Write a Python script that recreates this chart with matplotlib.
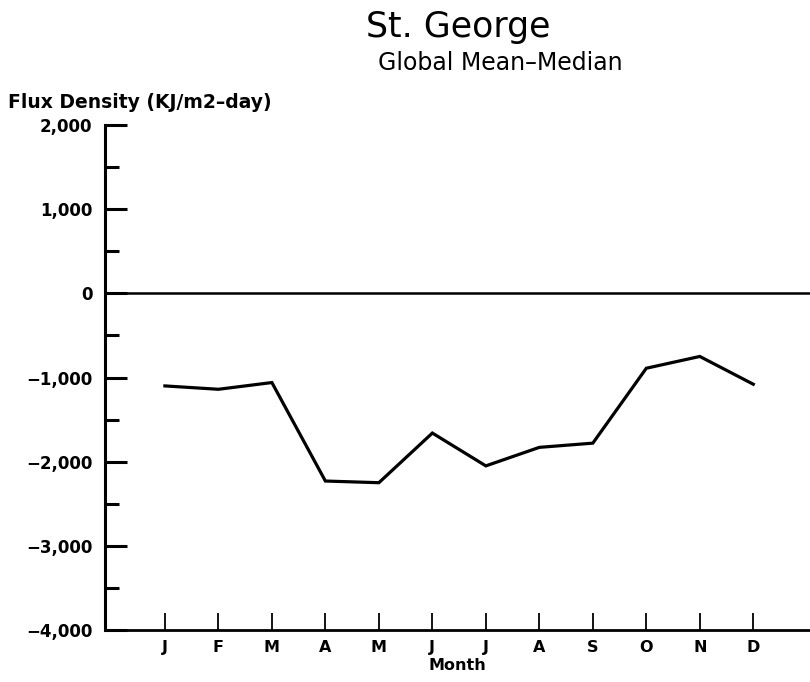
import numpy as np
import matplotlib.pyplot as plt
from matplotlib.ticker import MultipleLocator, FuncFormatter

months = ["J", "F", "M", "A", "M", "J", "J", "A", "S", "O", "N", "D"]
flux = [-1100, -1140, -1060, -2230, -2250, -1660, -2050, -1830, -1780, -890, -750, -1080]
x = np.arange(1, len(months) + 1)

plt.rcParams['font.family'] = ['DejaVu Sans']

fig = plt.figure(figsize=(8.1, 6.82), dpi=100)
ax = fig.add_axes([105 / 810, 52 / 682, 1 - 105 / 810, 505 / 682])

ax.plot(x, flux, color='black', linewidth=2.3, solid_joinstyle='miter')
ax.axhline(0, color='black', linewidth=1.8)

ax.set_xlim(-0.12, 13.06)
ax.set_ylim(-4000, 2000)

for s in ['top', 'right']:
    ax.spines[s].set_visible(False)
ax.spines['left'].set_linewidth(2.2)
ax.spines['bottom'].set_linewidth(2.0)

ax.set_xticks(x)
ax.set_xticklabels(months, fontweight='bold', fontsize=11.5)
ax.tick_params(axis='x', direction='in', length=12, width=1.3, pad=7)

ax.yaxis.set_major_locator(MultipleLocator(1000))
ax.yaxis.set_minor_locator(MultipleLocator(500))
ax.yaxis.set_major_formatter(FuncFormatter(lambda v, p: f"{int(v):,}".replace("-", "\u2212")))
ax.tick_params(axis='y', which='major', direction='in', length=16, width=2.2, pad=9,
               labelsize=12)
ax.tick_params(axis='y', which='minor', direction='in', length=10, width=2.2)
for lab in ax.get_yticklabels():
    lab.set_fontweight('bold')

ax.set_xlabel("Month", fontweight='bold', fontsize=11.5, labelpad=2)

fig.text(458 / 810, 1 - 37 / 682, "St. George", ha='center', va='baseline', fontsize=25)
fig.text(500 / 810, 1 - 70 / 682, "Global Mean\u2013Median", ha='center', va='baseline', fontsize=17)
fig.text(8 / 810, 1 - 102 / 682, "Flux Density (KJ/m2\u2013day)", ha='left', va='center',
         fontweight='bold', fontsize=13.5)

fig.savefig("out.png", dpi=100)
